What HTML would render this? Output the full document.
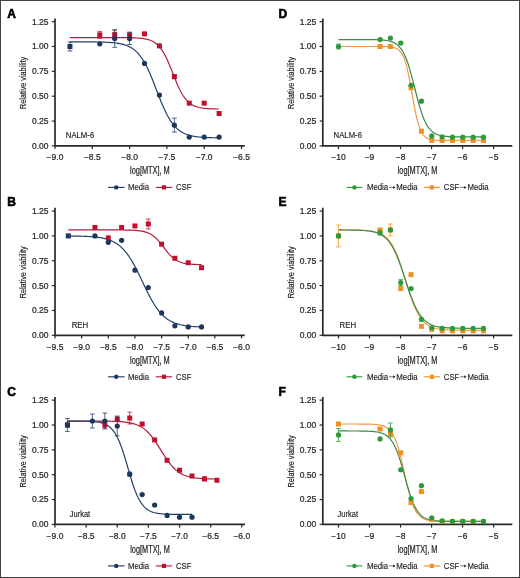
<!DOCTYPE html>
<html><head><meta charset="utf-8"><style>
html,body{margin:0;padding:0;background:#fff;}
body{width:520px;height:578px;overflow:hidden;}
svg{display:block;will-change:transform;}
text{font-family:"Liberation Sans",sans-serif;fill:#1e1e1e;}
.t{font-size:8.5px;stroke:#1e1e1e;stroke-width:0.15px;}
.cl{font-size:8.8px;stroke:#1e1e1e;stroke-width:0.15px;}
.tk{font-size:8.5px;stroke:#1e1e1e;stroke-width:0.2px;}
.xl{font-size:10px;stroke:#1e1e1e;stroke-width:0.22px;}
.yl{font-size:9.6px;stroke:#1e1e1e;stroke-width:0.2px;}
.pl{font-size:12px;font-weight:bold;fill:#000;stroke:#000;stroke-width:0.6px;}
</style></head><body>
<svg width="520" height="578" viewBox="0 0 520 578">
<rect x="0" y="0" width="520" height="578" fill="#fff"/>
<path d="M55.00 18.45V145.90H244.80" fill="none" stroke="#2a2a2a" stroke-width="1.7"/>
<path d="M51.80 145.90H55.00" stroke="#2a2a2a" stroke-width="1.2"/>
<text x="48.50" y="148.80" text-anchor="end" class="tk">0.00</text>
<path d="M51.80 121.05H55.00" stroke="#2a2a2a" stroke-width="1.2"/>
<text x="48.50" y="123.95" text-anchor="end" class="tk">0.25</text>
<path d="M51.80 96.20H55.00" stroke="#2a2a2a" stroke-width="1.2"/>
<text x="48.50" y="99.10" text-anchor="end" class="tk">0.50</text>
<path d="M51.80 71.35H55.00" stroke="#2a2a2a" stroke-width="1.2"/>
<text x="48.50" y="74.25" text-anchor="end" class="tk">0.75</text>
<path d="M51.80 46.50H55.00" stroke="#2a2a2a" stroke-width="1.2"/>
<text x="48.50" y="49.40" text-anchor="end" class="tk">1.00</text>
<path d="M51.80 21.65H55.00" stroke="#2a2a2a" stroke-width="1.2"/>
<text x="48.50" y="24.55" text-anchor="end" class="tk">1.25</text>
<path d="M55.00 145.90V149.10" stroke="#2a2a2a" stroke-width="1.2"/>
<text x="55.00" y="160.10" text-anchor="middle" class="tk">−9.0</text>
<path d="M92.30 145.90V149.10" stroke="#2a2a2a" stroke-width="1.2"/>
<text x="92.30" y="160.10" text-anchor="middle" class="tk">−8.5</text>
<path d="M129.60 145.90V149.10" stroke="#2a2a2a" stroke-width="1.2"/>
<text x="129.60" y="160.10" text-anchor="middle" class="tk">−8.0</text>
<path d="M166.90 145.90V149.10" stroke="#2a2a2a" stroke-width="1.2"/>
<text x="166.90" y="160.10" text-anchor="middle" class="tk">−7.5</text>
<path d="M204.20 145.90V149.10" stroke="#2a2a2a" stroke-width="1.2"/>
<text x="204.20" y="160.10" text-anchor="middle" class="tk">−7.0</text>
<path d="M241.50 145.90V149.10" stroke="#2a2a2a" stroke-width="1.2"/>
<text x="241.50" y="160.10" text-anchor="middle" class="tk">−6.5</text>
<text x="149.90" y="174.10" text-anchor="middle" class="xl" textLength="39.7" lengthAdjust="spacingAndGlyphs">log[MTX], M</text>
<text transform="translate(25.90 82.90) rotate(-90)" text-anchor="middle" class="yl" textLength="52" lengthAdjust="spacingAndGlyphs">Relative viability</text>
<text x="7.20" y="17.60" class="pl">A</text>
<text x="65.80" y="138.30" class="cl" textLength="28.4" lengthAdjust="spacingAndGlyphs">NALM-6</text>
<path d="M69.92 37.55 L71.16 37.55 L72.41 37.55 L73.65 37.55 L74.89 37.55 L76.14 37.55 L77.38 37.55 L78.62 37.55 L79.87 37.55 L81.11 37.55 L82.35 37.55 L83.60 37.55 L84.84 37.55 L86.08 37.55 L87.33 37.55 L88.57 37.55 L89.81 37.55 L91.06 37.55 L92.30 37.55 L93.54 37.55 L94.79 37.56 L96.03 37.56 L97.27 37.56 L98.52 37.56 L99.76 37.56 L101.00 37.56 L102.25 37.56 L103.49 37.56 L104.73 37.56 L105.98 37.56 L107.22 37.56 L108.46 37.56 L109.71 37.56 L110.95 37.56 L112.19 37.57 L113.44 37.57 L114.68 37.57 L115.92 37.58 L117.17 37.58 L118.41 37.59 L119.65 37.59 L120.90 37.60 L122.14 37.61 L123.38 37.62 L124.63 37.63 L125.87 37.64 L127.11 37.66 L128.36 37.68 L129.60 37.71 L130.84 37.74 L132.09 37.77 L133.33 37.81 L134.57 37.86 L135.82 37.92 L137.06 37.99 L138.30 38.08 L139.55 38.18 L140.79 38.30 L142.03 38.44 L143.28 38.61 L144.52 38.81 L145.76 39.05 L147.01 39.33 L148.25 39.66 L149.49 40.05 L150.74 40.52 L151.98 41.06 L153.22 41.70 L154.47 42.44 L155.71 43.31 L156.95 44.32 L158.20 45.48 L159.44 46.81 L160.68 48.33 L161.93 50.05 L163.17 51.97 L164.41 54.11 L165.66 56.47 L166.90 59.02 L168.14 61.77 L169.39 64.67 L170.63 67.70 L171.87 70.82 L173.12 73.97 L174.36 77.11 L175.60 80.20 L176.85 83.18 L178.09 86.03 L179.33 88.70 L180.58 91.17 L181.82 93.44 L183.06 95.50 L184.31 97.34 L185.55 98.98 L186.79 100.42 L188.04 101.68 L189.28 102.78 L190.52 103.73 L191.77 104.54 L193.01 105.24 L194.25 105.84 L195.50 106.35 L196.74 106.79 L197.98 107.15 L199.23 107.47 L200.47 107.73 L201.71 107.95 L202.96 108.14 L204.20 108.29 L205.44 108.43 L206.69 108.54 L207.93 108.63 L209.17 108.71 L210.42 108.78 L211.66 108.83 L212.90 108.88 L214.15 108.92 L215.39 108.95 L216.63 108.98 L217.88 109.00 L219.12 109.02" fill="none" stroke="#b51d3c" stroke-width="1.2"/>
<path d="M69.92 41.84 L71.16 41.84 L72.41 41.84 L73.65 41.84 L74.89 41.84 L76.14 41.84 L77.38 41.85 L78.62 41.85 L79.87 41.85 L81.11 41.86 L82.35 41.86 L83.60 41.86 L84.84 41.87 L86.08 41.88 L87.33 41.88 L88.57 41.89 L89.81 41.90 L91.06 41.91 L92.30 41.92 L93.54 41.94 L94.79 41.95 L96.03 41.97 L97.27 41.99 L98.52 42.01 L99.76 42.04 L101.00 42.07 L102.25 42.10 L103.49 42.14 L104.73 42.19 L105.98 42.24 L107.22 42.30 L108.46 42.36 L109.71 42.44 L110.95 42.53 L112.19 42.63 L113.44 42.74 L114.68 42.87 L115.92 43.02 L117.17 43.19 L118.41 43.38 L119.65 43.60 L120.90 43.85 L122.14 44.13 L123.38 44.45 L124.63 44.82 L125.87 45.23 L127.11 45.70 L128.36 46.23 L129.60 46.84 L130.84 47.51 L132.09 48.27 L133.33 49.13 L134.57 50.09 L135.82 51.16 L137.06 52.36 L138.30 53.69 L139.55 55.15 L140.79 56.77 L142.03 58.55 L143.28 60.48 L144.52 62.58 L145.76 64.85 L147.01 67.29 L148.25 69.88 L149.49 72.62 L150.74 75.50 L151.98 78.49 L153.22 81.58 L154.47 84.74 L155.71 87.95 L156.95 91.18 L158.20 94.39 L159.44 97.57 L160.68 100.68 L161.93 103.69 L163.17 106.59 L164.41 109.36 L165.66 111.98 L166.90 114.45 L168.14 116.75 L169.39 118.89 L170.63 120.86 L171.87 122.66 L173.12 124.31 L174.36 125.81 L175.60 127.16 L176.85 128.38 L178.09 129.48 L179.33 130.46 L180.58 131.34 L181.82 132.12 L183.06 132.81 L184.31 133.43 L185.55 133.97 L186.79 134.45 L188.04 134.88 L189.28 135.25 L190.52 135.58 L191.77 135.87 L193.01 136.13 L194.25 136.35 L195.50 136.55 L196.74 136.73 L197.98 136.88 L199.23 137.01 L200.47 137.13 L201.71 137.23 L202.96 137.32 L204.20 137.40 L205.44 137.47 L206.69 137.53 L207.93 137.58 L209.17 137.63 L210.42 137.67 L211.66 137.70 L212.90 137.73 L214.15 137.76 L215.39 137.78 L216.63 137.80 L217.88 137.82 L219.12 137.84" fill="none" stroke="#24406a" stroke-width="1.2"/>
<path d="M99.76 31.39V38.35M97.36 31.39H102.16M97.36 38.35H102.16" stroke="#c0102f" stroke-width="0.75" fill="none"/>
<rect x="97.26" y="32.37" width="5" height="5" fill="#c0102f"/>
<path d="M114.68 30.10V39.04M112.28 30.10H117.08M112.28 39.04H117.08" stroke="#c0102f" stroke-width="0.75" fill="none"/>
<rect x="112.18" y="32.07" width="5" height="5" fill="#c0102f"/>
<path d="M129.60 32.09V39.04M127.20 32.09H132.00M127.20 39.04H132.00" stroke="#c0102f" stroke-width="0.75" fill="none"/>
<rect x="127.10" y="33.07" width="5" height="5" fill="#c0102f"/>
<rect x="142.02" y="31.38" width="5" height="5" fill="#c0102f"/>
<rect x="156.94" y="43.40" width="5" height="5" fill="#c0102f"/>
<path d="M174.36 74.63V78.61M171.96 74.63H176.76M171.96 78.61H176.76" stroke="#c0102f" stroke-width="0.75" fill="none"/>
<rect x="171.86" y="74.12" width="5" height="5" fill="#c0102f"/>
<rect x="186.78" y="100.66" width="5" height="5" fill="#c0102f"/>
<rect x="201.70" y="100.66" width="5" height="5" fill="#c0102f"/>
<rect x="216.62" y="111.00" width="5" height="5" fill="#c0102f"/>
<path d="M69.92 42.03V50.97M67.52 42.03H72.32M67.52 50.97H72.32" stroke="#1b365f" stroke-width="0.75" fill="none"/>
<rect x="67.42" y="44.00" width="5" height="5" fill="#1b365f"/>
<circle cx="99.76" cy="43.82" r="2.6" fill="#1b365f"/>
<path d="M114.68 29.80V47.30M112.28 29.80H117.08M112.28 47.30H117.08" stroke="#1b365f" stroke-width="0.75" fill="none"/>
<circle cx="114.68" cy="38.55" r="2.6" fill="#1b365f"/>
<path d="M129.60 32.58V44.51M127.20 32.58H132.00M127.20 44.51H132.00" stroke="#1b365f" stroke-width="0.75" fill="none"/>
<circle cx="129.60" cy="38.55" r="2.6" fill="#1b365f"/>
<circle cx="144.52" cy="63.40" r="2.6" fill="#1b365f"/>
<circle cx="159.44" cy="95.01" r="2.6" fill="#1b365f"/>
<path d="M174.36 118.17V132.08M171.96 118.17H176.76M171.96 132.08H176.76" stroke="#1b365f" stroke-width="0.75" fill="none"/>
<circle cx="174.36" cy="125.13" r="2.6" fill="#1b365f"/>
<circle cx="189.28" cy="137.10" r="2.6" fill="#1b365f"/>
<circle cx="204.20" cy="137.10" r="2.6" fill="#1b365f"/>
<circle cx="219.12" cy="137.10" r="2.6" fill="#1b365f"/>
<path d="M108.00 187.40H124.50" stroke="#1b365f" stroke-width="1.1"/>
<circle cx="116.25" cy="187.40" r="2.2" fill="#1b365f"/>
<text x="128.00" y="190.30" class="t" textLength="21" lengthAdjust="spacingAndGlyphs">Media</text>
<path d="M155.80 187.40H172.10" stroke="#c0102f" stroke-width="1.1"/>
<rect x="161.85" y="185.30" width="4.2" height="4.2" fill="#c0102f"/>
<text x="176.00" y="190.30" class="t" textLength="15.5" lengthAdjust="spacingAndGlyphs">CSF</text>
<path d="M55.00 207.85V335.30H244.80" fill="none" stroke="#2a2a2a" stroke-width="1.7"/>
<path d="M51.80 335.30H55.00" stroke="#2a2a2a" stroke-width="1.2"/>
<text x="48.50" y="338.20" text-anchor="end" class="tk">0.00</text>
<path d="M51.80 310.45H55.00" stroke="#2a2a2a" stroke-width="1.2"/>
<text x="48.50" y="313.35" text-anchor="end" class="tk">0.25</text>
<path d="M51.80 285.60H55.00" stroke="#2a2a2a" stroke-width="1.2"/>
<text x="48.50" y="288.50" text-anchor="end" class="tk">0.50</text>
<path d="M51.80 260.75H55.00" stroke="#2a2a2a" stroke-width="1.2"/>
<text x="48.50" y="263.65" text-anchor="end" class="tk">0.75</text>
<path d="M51.80 235.90H55.00" stroke="#2a2a2a" stroke-width="1.2"/>
<text x="48.50" y="238.80" text-anchor="end" class="tk">1.00</text>
<path d="M51.80 211.05H55.00" stroke="#2a2a2a" stroke-width="1.2"/>
<text x="48.50" y="213.95" text-anchor="end" class="tk">1.25</text>
<path d="M55.00 335.30V338.50" stroke="#2a2a2a" stroke-width="1.2"/>
<text x="55.00" y="349.50" text-anchor="middle" class="tk">−9.5</text>
<path d="M81.64 335.30V338.50" stroke="#2a2a2a" stroke-width="1.2"/>
<text x="81.64" y="349.50" text-anchor="middle" class="tk">−9.0</text>
<path d="M108.29 335.30V338.50" stroke="#2a2a2a" stroke-width="1.2"/>
<text x="108.29" y="349.50" text-anchor="middle" class="tk">−8.5</text>
<path d="M134.94 335.30V338.50" stroke="#2a2a2a" stroke-width="1.2"/>
<text x="134.94" y="349.50" text-anchor="middle" class="tk">−8.0</text>
<path d="M161.58 335.30V338.50" stroke="#2a2a2a" stroke-width="1.2"/>
<text x="161.58" y="349.50" text-anchor="middle" class="tk">−7.5</text>
<path d="M188.22 335.30V338.50" stroke="#2a2a2a" stroke-width="1.2"/>
<text x="188.22" y="349.50" text-anchor="middle" class="tk">−7.0</text>
<path d="M214.87 335.30V338.50" stroke="#2a2a2a" stroke-width="1.2"/>
<text x="214.87" y="349.50" text-anchor="middle" class="tk">−6.5</text>
<path d="M241.51 335.30V338.50" stroke="#2a2a2a" stroke-width="1.2"/>
<text x="241.51" y="349.50" text-anchor="middle" class="tk">−6.0</text>
<text x="149.90" y="363.50" text-anchor="middle" class="xl" textLength="39.7" lengthAdjust="spacingAndGlyphs">log[MTX], M</text>
<text transform="translate(25.90 272.30) rotate(-90)" text-anchor="middle" class="yl" textLength="52" lengthAdjust="spacingAndGlyphs">Relative viability</text>
<text x="7.20" y="206.10" class="pl">B</text>
<text x="71.70" y="327.70" class="cl" textLength="16.6" lengthAdjust="spacingAndGlyphs">REH</text>
<path d="M68.32 229.94 L69.43 229.94 L70.54 229.94 L71.65 229.94 L72.76 229.94 L73.87 229.94 L74.98 229.94 L76.09 229.94 L77.20 229.94 L78.31 229.94 L79.42 229.94 L80.53 229.94 L81.64 229.94 L82.76 229.94 L83.87 229.94 L84.98 229.94 L86.09 229.94 L87.20 229.94 L88.31 229.94 L89.42 229.94 L90.53 229.94 L91.64 229.94 L92.75 229.94 L93.86 229.94 L94.97 229.94 L96.08 229.94 L97.19 229.94 L98.30 229.94 L99.41 229.94 L100.52 229.94 L101.63 229.94 L102.74 229.94 L103.85 229.94 L104.96 229.94 L106.07 229.94 L107.18 229.94 L108.29 229.94 L109.40 229.95 L110.51 229.95 L111.62 229.95 L112.73 229.95 L113.84 229.95 L114.95 229.96 L116.06 229.96 L117.17 229.97 L118.28 229.97 L119.39 229.98 L120.50 229.99 L121.61 230.00 L122.72 230.01 L123.83 230.02 L124.94 230.03 L126.05 230.05 L127.16 230.07 L128.27 230.10 L129.38 230.13 L130.49 230.16 L131.60 230.20 L132.71 230.25 L133.82 230.31 L134.94 230.38 L136.05 230.46 L137.16 230.55 L138.27 230.66 L139.38 230.79 L140.49 230.94 L141.60 231.12 L142.71 231.33 L143.82 231.57 L144.93 231.85 L146.04 232.18 L147.15 232.56 L148.26 233.00 L149.37 233.50 L150.48 234.08 L151.59 234.73 L152.70 235.47 L153.81 236.29 L154.92 237.21 L156.03 238.23 L157.14 239.33 L158.25 240.53 L159.36 241.80 L160.47 243.15 L161.58 244.55 L162.69 245.99 L163.80 247.45 L164.91 248.90 L166.02 250.34 L167.13 251.73 L168.24 253.07 L169.35 254.33 L170.46 255.51 L171.57 256.60 L172.68 257.60 L173.79 258.51 L174.90 259.32 L176.01 260.04 L177.12 260.68 L178.23 261.24 L179.34 261.74 L180.45 262.16 L181.56 262.53 L182.67 262.86 L183.78 263.13 L184.89 263.37 L186.00 263.57 L187.11 263.74 L188.22 263.89 L189.34 264.02 L190.45 264.13 L191.56 264.22 L192.67 264.30 L193.78 264.36 L194.89 264.42 L196.00 264.46 L197.11 264.50 L198.22 264.54 L199.33 264.57 L200.44 264.59 L201.55 264.61" fill="none" stroke="#b51d3c" stroke-width="1.2"/>
<path d="M68.32 236.00 L69.43 236.01 L70.54 236.02 L71.65 236.03 L72.76 236.05 L73.87 236.06 L74.98 236.08 L76.09 236.10 L77.20 236.12 L78.31 236.14 L79.42 236.17 L80.53 236.20 L81.64 236.23 L82.76 236.27 L83.87 236.31 L84.98 236.35 L86.09 236.40 L87.20 236.45 L88.31 236.51 L89.42 236.58 L90.53 236.65 L91.64 236.73 L92.75 236.82 L93.86 236.92 L94.97 237.03 L96.08 237.15 L97.19 237.28 L98.30 237.42 L99.41 237.59 L100.52 237.76 L101.63 237.96 L102.74 238.18 L103.85 238.42 L104.96 238.68 L106.07 238.97 L107.18 239.29 L108.29 239.64 L109.40 240.03 L110.51 240.46 L111.62 240.92 L112.73 241.43 L113.84 241.99 L114.95 242.60 L116.06 243.27 L117.17 243.99 L118.28 244.78 L119.39 245.64 L120.50 246.57 L121.61 247.57 L122.72 248.66 L123.83 249.83 L124.94 251.09 L126.05 252.43 L127.16 253.87 L128.27 255.40 L129.38 257.02 L130.49 258.73 L131.60 260.53 L132.71 262.42 L133.82 264.40 L134.94 266.45 L136.05 268.57 L137.16 270.76 L138.27 273.00 L139.38 275.28 L140.49 277.60 L141.60 279.93 L142.71 282.28 L143.82 284.62 L144.93 286.95 L146.04 289.25 L147.15 291.51 L148.26 293.72 L149.37 295.87 L150.48 297.96 L151.59 299.97 L152.70 301.89 L153.81 303.74 L154.92 305.49 L156.03 307.15 L157.14 308.72 L158.25 310.20 L159.36 311.58 L160.47 312.88 L161.58 314.08 L162.69 315.21 L163.80 316.25 L164.91 317.21 L166.02 318.10 L167.13 318.92 L168.24 319.67 L169.35 320.36 L170.46 321.00 L171.57 321.58 L172.68 322.11 L173.79 322.59 L174.90 323.03 L176.01 323.44 L177.12 323.80 L178.23 324.14 L179.34 324.44 L180.45 324.72 L181.56 324.97 L182.67 325.19 L183.78 325.40 L184.89 325.59 L186.00 325.75 L187.11 325.91 L188.22 326.05 L189.34 326.17 L190.45 326.29 L191.56 326.39 L192.67 326.48 L193.78 326.56 L194.89 326.64 L196.00 326.71 L197.11 326.77 L198.22 326.83 L199.33 326.88 L200.44 326.92 L201.55 326.96" fill="none" stroke="#24406a" stroke-width="1.2"/>
<rect x="92.47" y="224.95" width="5" height="5" fill="#c0102f"/>
<rect x="105.79" y="235.39" width="5" height="5" fill="#c0102f"/>
<rect x="119.11" y="224.95" width="5" height="5" fill="#c0102f"/>
<rect x="132.44" y="223.46" width="5" height="5" fill="#c0102f"/>
<path d="M148.26 219.00V228.94M145.86 219.00H150.66M145.86 228.94H150.66" stroke="#c0102f" stroke-width="0.75" fill="none"/>
<rect x="145.76" y="221.47" width="5" height="5" fill="#c0102f"/>
<rect x="159.08" y="241.65" width="5" height="5" fill="#c0102f"/>
<rect x="172.40" y="255.76" width="5" height="5" fill="#c0102f"/>
<rect x="185.72" y="260.24" width="5" height="5" fill="#c0102f"/>
<rect x="199.05" y="265.21" width="5" height="5" fill="#c0102f"/>
<path d="M68.32 234.91V236.89M65.92 234.91H70.72M65.92 236.89H70.72" stroke="#1b365f" stroke-width="0.75" fill="none"/>
<rect x="65.82" y="233.40" width="5" height="5" fill="#1b365f"/>
<circle cx="94.97" cy="235.90" r="2.6" fill="#1b365f"/>
<circle cx="108.29" cy="242.36" r="2.6" fill="#1b365f"/>
<circle cx="121.61" cy="240.37" r="2.6" fill="#1b365f"/>
<circle cx="134.94" cy="270.19" r="2.6" fill="#1b365f"/>
<circle cx="148.26" cy="287.59" r="2.6" fill="#1b365f"/>
<circle cx="161.58" cy="312.94" r="2.6" fill="#1b365f"/>
<circle cx="174.90" cy="325.86" r="2.6" fill="#1b365f"/>
<circle cx="188.22" cy="326.95" r="2.6" fill="#1b365f"/>
<circle cx="201.55" cy="326.95" r="2.6" fill="#1b365f"/>
<path d="M108.00 376.80H124.50" stroke="#1b365f" stroke-width="1.1"/>
<circle cx="116.25" cy="376.80" r="2.2" fill="#1b365f"/>
<text x="128.00" y="379.70" class="t" textLength="21" lengthAdjust="spacingAndGlyphs">Media</text>
<path d="M155.80 376.80H172.10" stroke="#c0102f" stroke-width="1.1"/>
<rect x="161.85" y="374.70" width="4.2" height="4.2" fill="#c0102f"/>
<text x="176.00" y="379.70" class="t" textLength="15.5" lengthAdjust="spacingAndGlyphs">CSF</text>
<path d="M55.00 396.95V524.40H245.00" fill="none" stroke="#2a2a2a" stroke-width="1.7"/>
<path d="M51.80 524.40H55.00" stroke="#2a2a2a" stroke-width="1.2"/>
<text x="48.50" y="527.30" text-anchor="end" class="tk">0.00</text>
<path d="M51.80 499.55H55.00" stroke="#2a2a2a" stroke-width="1.2"/>
<text x="48.50" y="502.45" text-anchor="end" class="tk">0.25</text>
<path d="M51.80 474.70H55.00" stroke="#2a2a2a" stroke-width="1.2"/>
<text x="48.50" y="477.60" text-anchor="end" class="tk">0.50</text>
<path d="M51.80 449.85H55.00" stroke="#2a2a2a" stroke-width="1.2"/>
<text x="48.50" y="452.75" text-anchor="end" class="tk">0.75</text>
<path d="M51.80 425.00H55.00" stroke="#2a2a2a" stroke-width="1.2"/>
<text x="48.50" y="427.90" text-anchor="end" class="tk">1.00</text>
<path d="M51.80 400.15H55.00" stroke="#2a2a2a" stroke-width="1.2"/>
<text x="48.50" y="403.05" text-anchor="end" class="tk">1.25</text>
<path d="M55.00 524.40V527.60" stroke="#2a2a2a" stroke-width="1.2"/>
<text x="55.00" y="538.60" text-anchor="middle" class="tk">−9.0</text>
<path d="M86.14 524.40V527.60" stroke="#2a2a2a" stroke-width="1.2"/>
<text x="86.14" y="538.60" text-anchor="middle" class="tk">−8.5</text>
<path d="M117.27 524.40V527.60" stroke="#2a2a2a" stroke-width="1.2"/>
<text x="117.27" y="538.60" text-anchor="middle" class="tk">−8.0</text>
<path d="M148.41 524.40V527.60" stroke="#2a2a2a" stroke-width="1.2"/>
<text x="148.41" y="538.60" text-anchor="middle" class="tk">−7.5</text>
<path d="M179.54 524.40V527.60" stroke="#2a2a2a" stroke-width="1.2"/>
<text x="179.54" y="538.60" text-anchor="middle" class="tk">−7.0</text>
<path d="M210.68 524.40V527.60" stroke="#2a2a2a" stroke-width="1.2"/>
<text x="210.68" y="538.60" text-anchor="middle" class="tk">−6.5</text>
<path d="M241.81 524.40V527.60" stroke="#2a2a2a" stroke-width="1.2"/>
<text x="241.81" y="538.60" text-anchor="middle" class="tk">−6.0</text>
<text x="150.00" y="552.60" text-anchor="middle" class="xl" textLength="39.7" lengthAdjust="spacingAndGlyphs">log[MTX], M</text>
<text transform="translate(25.90 461.40) rotate(-90)" text-anchor="middle" class="yl" textLength="52" lengthAdjust="spacingAndGlyphs">Relative viability</text>
<text x="7.20" y="396.10" class="pl">C</text>
<text x="69.80" y="516.80" class="cl" textLength="20.4" lengthAdjust="spacingAndGlyphs">Jurkat</text>
<path d="M67.45 421.03 L68.70 421.03 L69.94 421.03 L71.19 421.03 L72.44 421.03 L73.68 421.03 L74.93 421.03 L76.17 421.03 L77.42 421.03 L78.66 421.03 L79.91 421.03 L81.15 421.03 L82.40 421.03 L83.64 421.04 L84.89 421.04 L86.14 421.04 L87.38 421.04 L88.63 421.04 L89.87 421.05 L91.12 421.05 L92.36 421.05 L93.61 421.06 L94.85 421.06 L96.10 421.07 L97.34 421.07 L98.59 421.08 L99.83 421.09 L101.08 421.10 L102.33 421.11 L103.57 421.12 L104.82 421.14 L106.06 421.16 L107.31 421.18 L108.55 421.20 L109.80 421.22 L111.04 421.25 L112.29 421.29 L113.53 421.33 L114.78 421.37 L116.02 421.42 L117.27 421.48 L118.52 421.55 L119.76 421.63 L121.01 421.71 L122.25 421.82 L123.50 421.93 L124.74 422.06 L125.99 422.21 L127.23 422.39 L128.48 422.58 L129.72 422.81 L130.97 423.06 L132.21 423.35 L133.46 423.68 L134.71 424.05 L135.95 424.48 L137.20 424.95 L138.44 425.49 L139.69 426.09 L140.93 426.77 L142.18 427.53 L143.42 428.37 L144.67 429.30 L145.91 430.33 L147.16 431.46 L148.41 432.70 L149.65 434.04 L150.90 435.49 L152.14 437.04 L153.39 438.69 L154.63 440.44 L155.88 442.26 L157.12 444.16 L158.37 446.11 L159.61 448.09 L160.86 450.10 L162.10 452.10 L163.35 454.09 L164.60 456.04 L165.84 457.93 L167.09 459.76 L168.33 461.50 L169.58 463.16 L170.82 464.71 L172.07 466.16 L173.31 467.50 L174.56 468.73 L175.80 469.87 L177.05 470.90 L178.29 471.83 L179.54 472.67 L180.79 473.43 L182.03 474.10 L183.28 474.71 L184.52 475.25 L185.77 475.72 L187.01 476.14 L188.26 476.52 L189.50 476.85 L190.75 477.14 L191.99 477.39 L193.24 477.61 L194.48 477.81 L195.73 477.98 L196.98 478.13 L198.22 478.27 L199.47 478.38 L200.71 478.48 L201.96 478.57 L203.20 478.65 L204.45 478.71 L205.69 478.77 L206.94 478.82 L208.18 478.87 L209.43 478.91 L210.68 478.94 L211.92 478.97 L213.17 479.00 L214.41 479.02 L215.66 479.04 L216.90 479.06" fill="none" stroke="#b51d3c" stroke-width="1.2"/>
<path d="M67.45 421.04 L68.49 421.04 L69.53 421.04 L70.57 421.04 L71.61 421.05 L72.64 421.05 L73.68 421.05 L74.72 421.06 L75.76 421.07 L76.79 421.07 L77.83 421.08 L78.87 421.09 L79.91 421.10 L80.95 421.11 L81.98 421.13 L83.02 421.15 L84.06 421.17 L85.10 421.19 L86.14 421.22 L87.17 421.25 L88.21 421.29 L89.25 421.33 L90.29 421.38 L91.32 421.44 L92.36 421.51 L93.40 421.59 L94.44 421.69 L95.48 421.79 L96.51 421.92 L97.55 422.07 L98.59 422.24 L99.63 422.44 L100.66 422.67 L101.70 422.94 L102.74 423.25 L103.78 423.60 L104.82 424.02 L105.85 424.50 L106.89 425.05 L107.93 425.68 L108.97 426.41 L110.01 427.25 L111.04 428.20 L112.08 429.28 L113.12 430.52 L114.16 431.91 L115.19 433.47 L116.23 435.22 L117.27 437.17 L118.31 439.33 L119.35 441.69 L120.38 444.27 L121.42 447.05 L122.46 450.03 L123.50 453.18 L124.53 456.49 L125.57 459.93 L126.61 463.45 L127.65 467.02 L128.69 470.61 L129.72 474.16 L130.76 477.63 L131.80 480.99 L132.84 484.21 L133.88 487.27 L134.91 490.13 L135.95 492.79 L136.99 495.24 L138.03 497.48 L139.06 499.51 L140.10 501.33 L141.14 502.97 L142.18 504.43 L143.22 505.73 L144.25 506.87 L145.29 507.87 L146.33 508.75 L147.37 509.52 L148.41 510.19 L149.44 510.78 L150.48 511.28 L151.52 511.72 L152.56 512.10 L153.59 512.43 L154.63 512.71 L155.67 512.96 L156.71 513.17 L157.75 513.35 L158.78 513.51 L159.82 513.64 L160.86 513.76 L161.90 513.86 L162.93 513.94 L163.97 514.01 L165.01 514.08 L166.05 514.13 L167.09 514.18 L168.12 514.22 L169.16 514.25 L170.20 514.28 L171.24 514.31 L172.28 514.33 L173.31 514.35 L174.35 514.36 L175.39 514.38 L176.43 514.39 L177.46 514.40 L178.50 514.41 L179.54 514.42 L180.58 514.42 L181.62 514.43 L182.65 514.43 L183.69 514.44 L184.73 514.44 L185.77 514.44 L186.80 514.44 L187.84 514.45 L188.88 514.45 L189.92 514.45 L190.96 514.45 L191.99 514.45" fill="none" stroke="#24406a" stroke-width="1.2"/>
<rect x="64.95" y="422.50" width="5" height="5" fill="#c0102f"/>
<path d="M104.82 422.02V427.98M102.42 422.02H107.22M102.42 427.98H107.22" stroke="#c0102f" stroke-width="0.75" fill="none"/>
<rect x="102.32" y="422.50" width="5" height="5" fill="#c0102f"/>
<rect x="114.77" y="416.54" width="5" height="5" fill="#c0102f"/>
<path d="M129.72 412.08V424.01M127.32 412.08H132.12M127.32 424.01H132.12" stroke="#c0102f" stroke-width="0.75" fill="none"/>
<rect x="127.22" y="415.54" width="5" height="5" fill="#c0102f"/>
<rect x="139.68" y="421.51" width="5" height="5" fill="#c0102f"/>
<rect x="152.13" y="437.41" width="5" height="5" fill="#c0102f"/>
<rect x="164.59" y="457.79" width="5" height="5" fill="#c0102f"/>
<rect x="177.04" y="467.73" width="5" height="5" fill="#c0102f"/>
<rect x="189.49" y="473.49" width="5" height="5" fill="#c0102f"/>
<path d="M204.45 476.89V480.86M202.05 476.89H206.85M202.05 480.86H206.85" stroke="#c0102f" stroke-width="0.75" fill="none"/>
<rect x="201.95" y="476.37" width="5" height="5" fill="#c0102f"/>
<rect x="214.40" y="477.77" width="5" height="5" fill="#c0102f"/>
<path d="M67.45 418.54V431.46M65.05 418.54H69.85M65.05 431.46H69.85" stroke="#1b365f" stroke-width="0.75" fill="none"/>
<rect x="64.95" y="422.50" width="5" height="5" fill="#1b365f"/>
<path d="M92.36 414.07V427.98M89.96 414.07H94.76M89.96 427.98H94.76" stroke="#1b365f" stroke-width="0.75" fill="none"/>
<circle cx="92.36" cy="421.02" r="2.6" fill="#1b365f"/>
<path d="M104.82 413.07V428.98M102.42 413.07H107.22M102.42 428.98H107.22" stroke="#1b365f" stroke-width="0.75" fill="none"/>
<circle cx="104.82" cy="421.02" r="2.6" fill="#1b365f"/>
<path d="M117.27 416.05V435.93M114.87 416.05H119.67M114.87 435.93H119.67" stroke="#1b365f" stroke-width="0.75" fill="none"/>
<circle cx="117.27" cy="425.99" r="2.6" fill="#1b365f"/>
<path d="M129.72 472.21V476.19M127.32 472.21H132.12M127.32 476.19H132.12" stroke="#1b365f" stroke-width="0.75" fill="none"/>
<circle cx="129.72" cy="474.20" r="2.6" fill="#1b365f"/>
<circle cx="142.18" cy="494.58" r="2.6" fill="#1b365f"/>
<circle cx="154.63" cy="505.02" r="2.6" fill="#1b365f"/>
<circle cx="167.09" cy="515.45" r="2.6" fill="#1b365f"/>
<circle cx="179.54" cy="517.14" r="2.6" fill="#1b365f"/>
<circle cx="191.99" cy="517.14" r="2.6" fill="#1b365f"/>
<path d="M108.00 565.90H124.50" stroke="#1b365f" stroke-width="1.1"/>
<circle cx="116.25" cy="565.90" r="2.2" fill="#1b365f"/>
<text x="128.00" y="568.80" class="t" textLength="21" lengthAdjust="spacingAndGlyphs">Media</text>
<path d="M155.80 565.90H172.10" stroke="#c0102f" stroke-width="1.1"/>
<rect x="161.85" y="563.80" width="4.2" height="4.2" fill="#c0102f"/>
<text x="176.00" y="568.80" class="t" textLength="15.5" lengthAdjust="spacingAndGlyphs">CSF</text>
<path d="M322.80 18.45V145.90H512.30" fill="none" stroke="#2a2a2a" stroke-width="1.7"/>
<path d="M319.60 145.90H322.80" stroke="#2a2a2a" stroke-width="1.2"/>
<text x="316.30" y="148.80" text-anchor="end" class="tk">0.00</text>
<path d="M319.60 121.05H322.80" stroke="#2a2a2a" stroke-width="1.2"/>
<text x="316.30" y="123.95" text-anchor="end" class="tk">0.25</text>
<path d="M319.60 96.20H322.80" stroke="#2a2a2a" stroke-width="1.2"/>
<text x="316.30" y="99.10" text-anchor="end" class="tk">0.50</text>
<path d="M319.60 71.35H322.80" stroke="#2a2a2a" stroke-width="1.2"/>
<text x="316.30" y="74.25" text-anchor="end" class="tk">0.75</text>
<path d="M319.60 46.50H322.80" stroke="#2a2a2a" stroke-width="1.2"/>
<text x="316.30" y="49.40" text-anchor="end" class="tk">1.00</text>
<path d="M319.60 21.65H322.80" stroke="#2a2a2a" stroke-width="1.2"/>
<text x="316.30" y="24.55" text-anchor="end" class="tk">1.25</text>
<path d="M338.50 145.90V149.10" stroke="#2a2a2a" stroke-width="1.2"/>
<text x="338.50" y="160.10" text-anchor="middle" class="tk">−10</text>
<path d="M369.52 145.90V149.10" stroke="#2a2a2a" stroke-width="1.2"/>
<text x="369.52" y="160.10" text-anchor="middle" class="tk">−9</text>
<path d="M400.54 145.90V149.10" stroke="#2a2a2a" stroke-width="1.2"/>
<text x="400.54" y="160.10" text-anchor="middle" class="tk">−8</text>
<path d="M431.56 145.90V149.10" stroke="#2a2a2a" stroke-width="1.2"/>
<text x="431.56" y="160.10" text-anchor="middle" class="tk">−7</text>
<path d="M462.58 145.90V149.10" stroke="#2a2a2a" stroke-width="1.2"/>
<text x="462.58" y="160.10" text-anchor="middle" class="tk">−6</text>
<path d="M493.60 145.90V149.10" stroke="#2a2a2a" stroke-width="1.2"/>
<text x="493.60" y="160.10" text-anchor="middle" class="tk">−5</text>
<text x="417.55" y="174.10" text-anchor="middle" class="xl" textLength="39.7" lengthAdjust="spacingAndGlyphs">log[MTX], M</text>
<text transform="translate(293.70 82.90) rotate(-90)" text-anchor="middle" class="yl" textLength="52" lengthAdjust="spacingAndGlyphs">Relative viability</text>
<text x="278.50" y="18.20" class="pl">D</text>
<text x="333.60" y="138.30" class="cl" textLength="28.4" lengthAdjust="spacingAndGlyphs">NALM-6</text>
<path d="M338.50 46.50 L339.71 46.50 L340.91 46.50 L342.12 46.50 L343.33 46.50 L344.54 46.50 L345.74 46.50 L346.95 46.50 L348.16 46.50 L349.36 46.50 L350.57 46.50 L351.78 46.50 L352.99 46.50 L354.19 46.50 L355.40 46.50 L356.61 46.50 L357.82 46.50 L359.02 46.50 L360.23 46.50 L361.44 46.50 L362.64 46.50 L363.85 46.50 L365.06 46.50 L366.27 46.50 L367.47 46.50 L368.68 46.50 L369.89 46.50 L371.09 46.50 L372.30 46.51 L373.51 46.51 L374.72 46.51 L375.92 46.51 L377.13 46.52 L378.34 46.52 L379.54 46.53 L380.75 46.54 L381.96 46.56 L383.17 46.58 L384.37 46.61 L385.58 46.64 L386.79 46.69 L387.99 46.76 L389.20 46.85 L390.41 46.97 L391.62 47.13 L392.82 47.35 L394.03 47.63 L395.24 48.02 L396.45 48.53 L397.65 49.20 L398.86 50.10 L400.07 51.27 L401.27 52.81 L402.48 54.78 L403.69 57.31 L404.90 60.47 L406.10 64.36 L407.31 69.04 L408.52 74.48 L409.72 80.61 L410.93 87.26 L412.14 94.17 L413.35 101.04 L414.55 107.60 L415.76 113.61 L416.97 118.90 L418.17 123.41 L419.38 127.15 L420.59 130.18 L421.80 132.59 L423.00 134.47 L424.21 135.92 L425.42 137.04 L426.63 137.88 L427.83 138.52 L429.04 139.00 L430.25 139.37 L431.45 139.64 L432.66 139.84 L433.87 139.99 L435.08 140.10 L436.28 140.19 L437.49 140.25 L438.70 140.30 L439.90 140.33 L441.11 140.36 L442.32 140.38 L443.53 140.39 L444.73 140.40 L445.94 140.41 L447.15 140.42 L448.35 140.42 L449.56 140.42 L450.77 140.43 L451.98 140.43 L453.18 140.43 L454.39 140.43 L455.60 140.43 L456.81 140.43 L458.01 140.43 L459.22 140.43 L460.43 140.43 L461.63 140.43 L462.84 140.43 L464.05 140.43 L465.26 140.43 L466.46 140.43 L467.67 140.43 L468.88 140.43 L470.08 140.43 L471.29 140.43 L472.50 140.43 L473.71 140.43 L474.91 140.43 L476.12 140.43 L477.33 140.43 L478.53 140.43 L479.74 140.43 L480.95 140.43 L482.16 140.43 L483.36 140.43" fill="none" stroke="#f09a48" stroke-width="1.2"/>
<path d="M338.50 39.54 L339.71 39.54 L340.91 39.54 L342.12 39.54 L343.33 39.54 L344.54 39.54 L345.74 39.54 L346.95 39.54 L348.16 39.54 L349.36 39.54 L350.57 39.54 L351.78 39.55 L352.99 39.55 L354.19 39.55 L355.40 39.55 L356.61 39.55 L357.82 39.55 L359.02 39.55 L360.23 39.56 L361.44 39.56 L362.64 39.56 L363.85 39.57 L365.06 39.57 L366.27 39.58 L367.47 39.58 L368.68 39.59 L369.89 39.61 L371.09 39.62 L372.30 39.64 L373.51 39.66 L374.72 39.68 L375.92 39.71 L377.13 39.75 L378.34 39.79 L379.54 39.85 L380.75 39.91 L381.96 40.00 L383.17 40.09 L384.37 40.21 L385.58 40.36 L386.79 40.53 L387.99 40.75 L389.20 41.01 L390.41 41.32 L391.62 41.70 L392.82 42.16 L394.03 42.71 L395.24 43.37 L396.45 44.17 L397.65 45.12 L398.86 46.25 L400.07 47.59 L401.27 49.17 L402.48 51.02 L403.69 53.17 L404.90 55.65 L406.10 58.48 L407.31 61.67 L408.52 65.22 L409.72 69.11 L410.93 73.32 L412.14 77.79 L413.35 82.46 L414.55 87.23 L415.76 92.02 L416.97 96.74 L418.17 101.31 L419.38 105.63 L420.59 109.67 L421.80 113.37 L423.00 116.71 L424.21 119.69 L425.42 122.32 L426.63 124.60 L427.83 126.58 L429.04 128.27 L430.25 129.71 L431.45 130.92 L432.66 131.95 L433.87 132.80 L435.08 133.52 L436.28 134.12 L437.49 134.61 L438.70 135.02 L439.90 135.36 L441.11 135.64 L442.32 135.88 L443.53 136.07 L444.73 136.22 L445.94 136.35 L447.15 136.46 L448.35 136.55 L449.56 136.62 L450.77 136.68 L451.98 136.73 L453.18 136.77 L454.39 136.80 L455.60 136.83 L456.81 136.85 L458.01 136.87 L459.22 136.89 L460.43 136.90 L461.63 136.91 L462.84 136.92 L464.05 136.92 L465.26 136.93 L466.46 136.93 L467.67 136.94 L468.88 136.94 L470.08 136.94 L471.29 136.94 L472.50 136.95 L473.71 136.95 L474.91 136.95 L476.12 136.95 L477.33 136.95 L478.53 136.95 L479.74 136.95 L480.95 136.95 L482.16 136.95 L483.36 136.95" fill="none" stroke="#3a8c48" stroke-width="1.2"/>
<rect x="377.57" y="44.00" width="5" height="5" fill="#f0901e"/>
<rect x="387.91" y="44.00" width="5" height="5" fill="#f0901e"/>
<rect x="408.58" y="85.25" width="5" height="5" fill="#f0901e"/>
<rect x="418.92" y="128.69" width="5" height="5" fill="#f0901e"/>
<rect x="429.26" y="137.93" width="5" height="5" fill="#f0901e"/>
<rect x="439.60" y="137.93" width="5" height="5" fill="#f0901e"/>
<rect x="449.94" y="137.93" width="5" height="5" fill="#f0901e"/>
<rect x="460.28" y="137.93" width="5" height="5" fill="#f0901e"/>
<rect x="470.62" y="137.93" width="5" height="5" fill="#f0901e"/>
<rect x="480.96" y="137.93" width="5" height="5" fill="#f0901e"/>
<path d="M338.50 44.02V48.98M336.10 44.02H340.90M336.10 48.98H340.90" stroke="#2b9a3a" stroke-width="0.75" fill="none"/>
<circle cx="338.50" cy="46.50" r="2.6" fill="#2b9a3a"/>
<path d="M380.07 38.55V40.54M377.67 38.55H382.47M377.67 40.54H382.47" stroke="#2b9a3a" stroke-width="0.75" fill="none"/>
<circle cx="380.07" cy="39.54" r="2.6" fill="#2b9a3a"/>
<circle cx="390.41" cy="38.05" r="2.6" fill="#2b9a3a"/>
<path d="M400.74 42.03V44.02M398.34 42.03H403.14M398.34 44.02H403.14" stroke="#2b9a3a" stroke-width="0.75" fill="none"/>
<circle cx="400.74" cy="43.02" r="2.6" fill="#2b9a3a"/>
<circle cx="411.08" cy="85.27" r="2.6" fill="#2b9a3a"/>
<circle cx="421.42" cy="101.17" r="2.6" fill="#2b9a3a"/>
<circle cx="431.76" cy="135.96" r="2.6" fill="#2b9a3a"/>
<circle cx="442.10" cy="136.76" r="2.6" fill="#2b9a3a"/>
<circle cx="452.44" cy="137.15" r="2.6" fill="#2b9a3a"/>
<circle cx="462.78" cy="137.15" r="2.6" fill="#2b9a3a"/>
<circle cx="473.12" cy="137.15" r="2.6" fill="#2b9a3a"/>
<circle cx="483.46" cy="137.15" r="2.6" fill="#2b9a3a"/>
<path d="M346.50 187.40H362.30" stroke="#2b9a3a" stroke-width="1.1"/>
<circle cx="354.40" cy="187.40" r="2.2" fill="#2b9a3a"/>
<text x="366.90" y="190.30" class="t" textLength="21.3" lengthAdjust="spacingAndGlyphs">Media</text>
<path d="M389.00 187.40H394.60" stroke="#1e1e1e" stroke-width="0.8" fill="none" opacity="0.75"/>
<path d="M393.20 185.90L395.40 187.40L393.20 188.90Z" fill="#1e1e1e"/>
<text x="396.30" y="190.30" class="t" textLength="21.3" lengthAdjust="spacingAndGlyphs">Media</text>
<path d="M423.80 187.40H440.00" stroke="#f0901e" stroke-width="1.1"/>
<rect x="429.80" y="185.30" width="4.2" height="4.2" fill="#f0901e"/>
<text x="443.80" y="190.30" class="t" textLength="15.5" lengthAdjust="spacingAndGlyphs">CSF</text>
<path d="M460.10 187.40H465.70" stroke="#1e1e1e" stroke-width="0.8" fill="none" opacity="0.75"/>
<path d="M464.30 185.90L466.50 187.40L464.30 188.90Z" fill="#1e1e1e"/>
<text x="467.40" y="190.30" class="t" textLength="21.3" lengthAdjust="spacingAndGlyphs">Media</text>
<path d="M322.80 207.85V335.30H512.30" fill="none" stroke="#2a2a2a" stroke-width="1.7"/>
<path d="M319.60 335.30H322.80" stroke="#2a2a2a" stroke-width="1.2"/>
<text x="316.30" y="338.20" text-anchor="end" class="tk">0.00</text>
<path d="M319.60 310.45H322.80" stroke="#2a2a2a" stroke-width="1.2"/>
<text x="316.30" y="313.35" text-anchor="end" class="tk">0.25</text>
<path d="M319.60 285.60H322.80" stroke="#2a2a2a" stroke-width="1.2"/>
<text x="316.30" y="288.50" text-anchor="end" class="tk">0.50</text>
<path d="M319.60 260.75H322.80" stroke="#2a2a2a" stroke-width="1.2"/>
<text x="316.30" y="263.65" text-anchor="end" class="tk">0.75</text>
<path d="M319.60 235.90H322.80" stroke="#2a2a2a" stroke-width="1.2"/>
<text x="316.30" y="238.80" text-anchor="end" class="tk">1.00</text>
<path d="M319.60 211.05H322.80" stroke="#2a2a2a" stroke-width="1.2"/>
<text x="316.30" y="213.95" text-anchor="end" class="tk">1.25</text>
<path d="M338.50 335.30V338.50" stroke="#2a2a2a" stroke-width="1.2"/>
<text x="338.50" y="349.50" text-anchor="middle" class="tk">−10</text>
<path d="M369.52 335.30V338.50" stroke="#2a2a2a" stroke-width="1.2"/>
<text x="369.52" y="349.50" text-anchor="middle" class="tk">−9</text>
<path d="M400.54 335.30V338.50" stroke="#2a2a2a" stroke-width="1.2"/>
<text x="400.54" y="349.50" text-anchor="middle" class="tk">−8</text>
<path d="M431.56 335.30V338.50" stroke="#2a2a2a" stroke-width="1.2"/>
<text x="431.56" y="349.50" text-anchor="middle" class="tk">−7</text>
<path d="M462.58 335.30V338.50" stroke="#2a2a2a" stroke-width="1.2"/>
<text x="462.58" y="349.50" text-anchor="middle" class="tk">−6</text>
<path d="M493.60 335.30V338.50" stroke="#2a2a2a" stroke-width="1.2"/>
<text x="493.60" y="349.50" text-anchor="middle" class="tk">−5</text>
<text x="417.55" y="363.50" text-anchor="middle" class="xl" textLength="39.7" lengthAdjust="spacingAndGlyphs">log[MTX], M</text>
<text transform="translate(293.70 272.30) rotate(-90)" text-anchor="middle" class="yl" textLength="52" lengthAdjust="spacingAndGlyphs">Relative viability</text>
<text x="278.50" y="206.10" class="pl">E</text>
<text x="339.50" y="327.70" class="cl" textLength="16.6" lengthAdjust="spacingAndGlyphs">REH</text>
<path d="M338.50 229.95 L339.71 229.96 L340.91 229.96 L342.12 229.96 L343.33 229.97 L344.54 229.97 L345.74 229.98 L346.95 229.99 L348.16 229.99 L349.36 230.00 L350.57 230.02 L351.78 230.03 L352.99 230.05 L354.19 230.06 L355.40 230.09 L356.61 230.11 L357.82 230.14 L359.02 230.18 L360.23 230.22 L361.44 230.26 L362.64 230.32 L363.85 230.38 L365.06 230.46 L366.27 230.55 L367.47 230.65 L368.68 230.77 L369.89 230.91 L371.09 231.07 L372.30 231.26 L373.51 231.48 L374.72 231.74 L375.92 232.04 L377.13 232.39 L378.34 232.80 L379.54 233.27 L380.75 233.81 L381.96 234.44 L383.17 235.16 L384.37 236.00 L385.58 236.96 L386.79 238.05 L387.99 239.30 L389.20 240.72 L390.41 242.32 L391.62 244.13 L392.82 246.15 L394.03 248.40 L395.24 250.88 L396.45 253.59 L397.65 256.55 L398.86 259.72 L400.07 263.11 L401.27 266.68 L402.48 270.41 L403.69 274.24 L404.90 278.15 L406.10 282.09 L407.31 286.00 L408.52 289.84 L409.72 293.56 L410.93 297.13 L412.14 300.52 L413.35 303.70 L414.55 306.65 L415.76 309.37 L416.97 311.85 L418.17 314.10 L419.38 316.12 L420.59 317.93 L421.80 319.54 L423.00 320.96 L424.21 322.21 L425.42 323.30 L426.63 324.26 L427.83 325.10 L429.04 325.82 L430.25 326.45 L431.45 327.00 L432.66 327.47 L433.87 327.87 L435.08 328.22 L436.28 328.52 L437.49 328.78 L438.70 329.00 L439.90 329.19 L441.11 329.36 L442.32 329.50 L443.53 329.62 L444.73 329.72 L445.94 329.81 L447.15 329.88 L448.35 329.95 L449.56 330.00 L450.77 330.05 L451.98 330.09 L453.18 330.13 L454.39 330.16 L455.60 330.18 L456.81 330.20 L458.01 330.22 L459.22 330.24 L460.43 330.25 L461.63 330.26 L462.84 330.27 L464.05 330.28 L465.26 330.29 L466.46 330.29 L467.67 330.30 L468.88 330.30 L470.08 330.31 L471.29 330.31 L472.50 330.31 L473.71 330.32 L474.91 330.32 L476.12 330.32 L477.33 330.32 L478.53 330.32 L479.74 330.32 L480.95 330.32 L482.16 330.33 L483.36 330.33" fill="none" stroke="#f09a48" stroke-width="1.2"/>
<path d="M338.50 229.96 L339.71 229.97 L340.91 229.97 L342.12 229.98 L343.33 229.98 L344.54 229.99 L345.74 230.00 L346.95 230.01 L348.16 230.02 L349.36 230.03 L350.57 230.05 L351.78 230.07 L352.99 230.09 L354.19 230.11 L355.40 230.14 L356.61 230.18 L357.82 230.21 L359.02 230.26 L360.23 230.31 L361.44 230.37 L362.64 230.44 L363.85 230.52 L365.06 230.62 L366.27 230.73 L367.47 230.85 L368.68 231.00 L369.89 231.17 L371.09 231.36 L372.30 231.59 L373.51 231.85 L374.72 232.15 L375.92 232.50 L377.13 232.90 L378.34 233.36 L379.54 233.90 L380.75 234.51 L381.96 235.20 L383.17 236.00 L384.37 236.91 L385.58 237.95 L386.79 239.12 L387.99 240.44 L389.20 241.93 L390.41 243.60 L391.62 245.46 L392.82 247.51 L394.03 249.78 L395.24 252.26 L396.45 254.94 L397.65 257.84 L398.86 260.92 L400.07 264.18 L401.27 267.60 L402.48 271.13 L403.69 274.75 L404.90 278.42 L406.10 282.10 L407.31 285.74 L408.52 289.32 L409.72 292.78 L410.93 296.10 L412.14 299.26 L413.35 302.23 L414.55 305.00 L415.76 307.56 L416.97 309.91 L418.17 312.04 L419.38 313.98 L420.59 315.72 L421.80 317.28 L423.00 318.66 L424.21 319.89 L425.42 320.98 L426.63 321.94 L427.83 322.78 L429.04 323.51 L430.25 324.15 L431.45 324.71 L432.66 325.20 L433.87 325.63 L435.08 326.00 L436.28 326.31 L437.49 326.59 L438.70 326.83 L439.90 327.04 L441.11 327.22 L442.32 327.37 L443.53 327.51 L444.73 327.62 L445.94 327.72 L447.15 327.81 L448.35 327.88 L449.56 327.94 L450.77 328.00 L451.98 328.05 L453.18 328.09 L454.39 328.12 L455.60 328.15 L456.81 328.18 L458.01 328.20 L459.22 328.22 L460.43 328.24 L461.63 328.25 L462.84 328.27 L464.05 328.28 L465.26 328.28 L466.46 328.29 L467.67 328.30 L468.88 328.31 L470.08 328.31 L471.29 328.32 L472.50 328.32 L473.71 328.32 L474.91 328.32 L476.12 328.33 L477.33 328.33 L478.53 328.33 L479.74 328.33 L480.95 328.33 L482.16 328.33 L483.36 328.34" fill="none" stroke="#3a8c48" stroke-width="1.2"/>
<path d="M338.50 224.97V246.83M336.10 224.97H340.90M336.10 246.83H340.90" stroke="#f0901e" stroke-width="0.75" fill="none"/>
<rect x="336.00" y="233.40" width="5" height="5" fill="#f0901e"/>
<rect x="377.57" y="227.44" width="5" height="5" fill="#f0901e"/>
<path d="M390.41 223.97V235.90M388.01 223.97H392.81M388.01 235.90H392.81" stroke="#f0901e" stroke-width="0.75" fill="none"/>
<rect x="387.91" y="227.44" width="5" height="5" fill="#f0901e"/>
<rect x="398.24" y="286.08" width="5" height="5" fill="#f0901e"/>
<rect x="408.58" y="272.17" width="5" height="5" fill="#f0901e"/>
<rect x="418.92" y="323.85" width="5" height="5" fill="#f0901e"/>
<rect x="429.26" y="326.84" width="5" height="5" fill="#f0901e"/>
<rect x="439.60" y="328.33" width="5" height="5" fill="#f0901e"/>
<rect x="449.94" y="328.33" width="5" height="5" fill="#f0901e"/>
<rect x="460.28" y="328.33" width="5" height="5" fill="#f0901e"/>
<rect x="470.62" y="328.33" width="5" height="5" fill="#f0901e"/>
<rect x="480.96" y="328.33" width="5" height="5" fill="#f0901e"/>
<circle cx="338.50" cy="235.90" r="2.6" fill="#2b9a3a"/>
<path d="M380.07 230.93V234.91M377.67 230.93H382.47M377.67 234.91H382.47" stroke="#2b9a3a" stroke-width="0.75" fill="none"/>
<circle cx="380.07" cy="232.92" r="2.6" fill="#2b9a3a"/>
<circle cx="390.41" cy="229.94" r="2.6" fill="#2b9a3a"/>
<path d="M400.74 279.64V285.60M398.34 279.64H403.14M398.34 285.60H403.14" stroke="#2b9a3a" stroke-width="0.75" fill="none"/>
<circle cx="400.74" cy="282.62" r="2.6" fill="#2b9a3a"/>
<circle cx="411.08" cy="288.58" r="2.6" fill="#2b9a3a"/>
<circle cx="421.42" cy="319.40" r="2.6" fill="#2b9a3a"/>
<circle cx="431.76" cy="327.75" r="2.6" fill="#2b9a3a"/>
<circle cx="442.10" cy="328.34" r="2.6" fill="#2b9a3a"/>
<circle cx="452.44" cy="328.34" r="2.6" fill="#2b9a3a"/>
<circle cx="462.78" cy="328.34" r="2.6" fill="#2b9a3a"/>
<circle cx="473.12" cy="328.34" r="2.6" fill="#2b9a3a"/>
<circle cx="483.46" cy="328.34" r="2.6" fill="#2b9a3a"/>
<path d="M346.50 376.80H362.30" stroke="#2b9a3a" stroke-width="1.1"/>
<circle cx="354.40" cy="376.80" r="2.2" fill="#2b9a3a"/>
<text x="366.90" y="379.70" class="t" textLength="21.3" lengthAdjust="spacingAndGlyphs">Media</text>
<path d="M389.00 376.80H394.60" stroke="#1e1e1e" stroke-width="0.8" fill="none" opacity="0.75"/>
<path d="M393.20 375.30L395.40 376.80L393.20 378.30Z" fill="#1e1e1e"/>
<text x="396.30" y="379.70" class="t" textLength="21.3" lengthAdjust="spacingAndGlyphs">Media</text>
<path d="M423.80 376.80H440.00" stroke="#f0901e" stroke-width="1.1"/>
<rect x="429.80" y="374.70" width="4.2" height="4.2" fill="#f0901e"/>
<text x="443.80" y="379.70" class="t" textLength="15.5" lengthAdjust="spacingAndGlyphs">CSF</text>
<path d="M460.10 376.80H465.70" stroke="#1e1e1e" stroke-width="0.8" fill="none" opacity="0.75"/>
<path d="M464.30 375.30L466.50 376.80L464.30 378.30Z" fill="#1e1e1e"/>
<text x="467.40" y="379.70" class="t" textLength="21.3" lengthAdjust="spacingAndGlyphs">Media</text>
<path d="M322.80 396.95V524.40H512.30" fill="none" stroke="#2a2a2a" stroke-width="1.7"/>
<path d="M319.60 524.40H322.80" stroke="#2a2a2a" stroke-width="1.2"/>
<text x="316.30" y="527.30" text-anchor="end" class="tk">0.00</text>
<path d="M319.60 499.55H322.80" stroke="#2a2a2a" stroke-width="1.2"/>
<text x="316.30" y="502.45" text-anchor="end" class="tk">0.25</text>
<path d="M319.60 474.70H322.80" stroke="#2a2a2a" stroke-width="1.2"/>
<text x="316.30" y="477.60" text-anchor="end" class="tk">0.50</text>
<path d="M319.60 449.85H322.80" stroke="#2a2a2a" stroke-width="1.2"/>
<text x="316.30" y="452.75" text-anchor="end" class="tk">0.75</text>
<path d="M319.60 425.00H322.80" stroke="#2a2a2a" stroke-width="1.2"/>
<text x="316.30" y="427.90" text-anchor="end" class="tk">1.00</text>
<path d="M319.60 400.15H322.80" stroke="#2a2a2a" stroke-width="1.2"/>
<text x="316.30" y="403.05" text-anchor="end" class="tk">1.25</text>
<path d="M338.50 524.40V527.60" stroke="#2a2a2a" stroke-width="1.2"/>
<text x="338.50" y="538.60" text-anchor="middle" class="tk">−10</text>
<path d="M369.52 524.40V527.60" stroke="#2a2a2a" stroke-width="1.2"/>
<text x="369.52" y="538.60" text-anchor="middle" class="tk">−9</text>
<path d="M400.54 524.40V527.60" stroke="#2a2a2a" stroke-width="1.2"/>
<text x="400.54" y="538.60" text-anchor="middle" class="tk">−8</text>
<path d="M431.56 524.40V527.60" stroke="#2a2a2a" stroke-width="1.2"/>
<text x="431.56" y="538.60" text-anchor="middle" class="tk">−7</text>
<path d="M462.58 524.40V527.60" stroke="#2a2a2a" stroke-width="1.2"/>
<text x="462.58" y="538.60" text-anchor="middle" class="tk">−6</text>
<path d="M493.60 524.40V527.60" stroke="#2a2a2a" stroke-width="1.2"/>
<text x="493.60" y="538.60" text-anchor="middle" class="tk">−5</text>
<text x="417.55" y="552.60" text-anchor="middle" class="xl" textLength="39.7" lengthAdjust="spacingAndGlyphs">log[MTX], M</text>
<text transform="translate(293.70 461.40) rotate(-90)" text-anchor="middle" class="yl" textLength="52" lengthAdjust="spacingAndGlyphs">Relative viability</text>
<text x="278.50" y="395.60" class="pl">F</text>
<text x="337.60" y="516.80" class="cl" textLength="20.4" lengthAdjust="spacingAndGlyphs">Jurkat</text>
<path d="M338.50 424.01 L339.71 424.01 L340.91 424.01 L342.12 424.01 L343.33 424.01 L344.54 424.01 L345.74 424.01 L346.95 424.01 L348.16 424.01 L349.36 424.01 L350.57 424.01 L351.78 424.01 L352.99 424.01 L354.19 424.02 L355.40 424.02 L356.61 424.02 L357.82 424.02 L359.02 424.03 L360.23 424.03 L361.44 424.04 L362.64 424.05 L363.85 424.06 L365.06 424.07 L366.27 424.09 L367.47 424.11 L368.68 424.14 L369.89 424.17 L371.09 424.22 L372.30 424.27 L373.51 424.33 L374.72 424.41 L375.92 424.51 L377.13 424.64 L378.34 424.80 L379.54 424.99 L380.75 425.24 L381.96 425.54 L383.17 425.92 L384.37 426.38 L385.58 426.96 L386.79 427.67 L387.99 428.55 L389.20 429.62 L390.41 430.92 L391.62 432.50 L392.82 434.39 L394.03 436.65 L395.24 439.32 L396.45 442.42 L397.65 445.98 L398.86 450.01 L400.07 454.48 L401.27 459.33 L402.48 464.50 L403.69 469.85 L404.90 475.28 L406.10 480.65 L407.31 485.82 L408.52 490.69 L409.72 495.18 L410.93 499.24 L412.14 502.82 L413.35 505.95 L414.55 508.64 L415.76 510.92 L416.97 512.83 L418.17 514.43 L419.38 515.74 L420.59 516.83 L421.80 517.71 L423.00 518.43 L424.21 519.01 L425.42 519.48 L426.63 519.86 L427.83 520.17 L429.04 520.42 L430.25 520.62 L431.45 520.78 L432.66 520.90 L433.87 521.01 L435.08 521.09 L436.28 521.15 L437.49 521.21 L438.70 521.25 L439.90 521.28 L441.11 521.31 L442.32 521.33 L443.53 521.35 L444.73 521.36 L445.94 521.37 L447.15 521.38 L448.35 521.39 L449.56 521.40 L450.77 521.40 L451.98 521.40 L453.18 521.41 L454.39 521.41 L455.60 521.41 L456.81 521.41 L458.01 521.41 L459.22 521.41 L460.43 521.41 L461.63 521.42 L462.84 521.42 L464.05 521.42 L465.26 521.42 L466.46 521.42 L467.67 521.42 L468.88 521.42 L470.08 521.42 L471.29 521.42 L472.50 521.42 L473.71 521.42 L474.91 521.42 L476.12 521.42 L477.33 521.42 L478.53 521.42 L479.74 521.42 L480.95 521.42 L482.16 521.42 L483.36 521.42" fill="none" stroke="#f09a48" stroke-width="1.2"/>
<path d="M338.50 430.97 L339.71 430.97 L340.91 430.97 L342.12 430.97 L343.33 430.97 L344.54 430.97 L345.74 430.97 L346.95 430.97 L348.16 430.97 L349.36 430.98 L350.57 430.98 L351.78 430.98 L352.99 430.99 L354.19 430.99 L355.40 431.00 L356.61 431.00 L357.82 431.01 L359.02 431.02 L360.23 431.03 L361.44 431.05 L362.64 431.07 L363.85 431.09 L365.06 431.12 L366.27 431.15 L367.47 431.19 L368.68 431.24 L369.89 431.29 L371.09 431.37 L372.30 431.45 L373.51 431.56 L374.72 431.68 L375.92 431.83 L377.13 432.02 L378.34 432.24 L379.54 432.51 L380.75 432.84 L381.96 433.23 L383.17 433.70 L384.37 434.26 L385.58 434.94 L386.79 435.75 L387.99 436.71 L389.20 437.85 L390.41 439.20 L391.62 440.77 L392.82 442.61 L394.03 444.72 L395.24 447.15 L396.45 449.90 L397.65 452.97 L398.86 456.37 L400.07 460.07 L401.27 464.03 L402.48 468.21 L403.69 472.53 L404.90 476.92 L406.10 481.29 L407.31 485.57 L408.52 489.68 L409.72 493.57 L410.93 497.17 L412.14 500.46 L413.35 503.43 L414.55 506.07 L415.76 508.39 L416.97 510.41 L418.17 512.16 L419.38 513.65 L420.59 514.93 L421.80 516.01 L423.00 516.91 L424.21 517.68 L425.42 518.32 L426.63 518.85 L427.83 519.29 L429.04 519.66 L430.25 519.97 L431.45 520.22 L432.66 520.43 L433.87 520.60 L435.08 520.74 L436.28 520.86 L437.49 520.96 L438.70 521.04 L439.90 521.11 L441.11 521.16 L442.32 521.21 L443.53 521.24 L444.73 521.28 L445.94 521.30 L447.15 521.32 L448.35 521.34 L449.56 521.35 L450.77 521.36 L451.98 521.37 L453.18 521.38 L454.39 521.39 L455.60 521.39 L456.81 521.40 L458.01 521.40 L459.22 521.40 L460.43 521.41 L461.63 521.41 L462.84 521.41 L464.05 521.41 L465.26 521.41 L466.46 521.41 L467.67 521.41 L468.88 521.42 L470.08 521.42 L471.29 521.42 L472.50 521.42 L473.71 521.42 L474.91 521.42 L476.12 521.42 L477.33 521.42 L478.53 521.42 L479.74 521.42 L480.95 521.42 L482.16 521.42 L483.36 521.42" fill="none" stroke="#3a8c48" stroke-width="1.2"/>
<rect x="336.00" y="421.51" width="5" height="5" fill="#f0901e"/>
<rect x="377.57" y="426.48" width="5" height="5" fill="#f0901e"/>
<rect x="387.91" y="431.45" width="5" height="5" fill="#f0901e"/>
<rect x="398.24" y="450.33" width="5" height="5" fill="#f0901e"/>
<rect x="408.58" y="500.03" width="5" height="5" fill="#f0901e"/>
<rect x="418.92" y="489.10" width="5" height="5" fill="#f0901e"/>
<rect x="429.26" y="516.93" width="5" height="5" fill="#f0901e"/>
<rect x="439.60" y="518.92" width="5" height="5" fill="#f0901e"/>
<rect x="449.94" y="518.92" width="5" height="5" fill="#f0901e"/>
<rect x="460.28" y="518.92" width="5" height="5" fill="#f0901e"/>
<rect x="470.62" y="518.92" width="5" height="5" fill="#f0901e"/>
<rect x="480.96" y="518.92" width="5" height="5" fill="#f0901e"/>
<path d="M338.50 428.48V441.40M336.10 428.48H340.90M336.10 441.40H340.90" stroke="#2b9a3a" stroke-width="0.75" fill="none"/>
<circle cx="338.50" cy="434.94" r="2.6" fill="#2b9a3a"/>
<circle cx="380.07" cy="438.92" r="2.6" fill="#2b9a3a"/>
<path d="M390.41 423.01V436.93M388.01 423.01H392.81M388.01 436.93H392.81" stroke="#2b9a3a" stroke-width="0.75" fill="none"/>
<circle cx="390.41" cy="429.97" r="2.6" fill="#2b9a3a"/>
<circle cx="400.74" cy="469.73" r="2.6" fill="#2b9a3a"/>
<circle cx="411.08" cy="498.56" r="2.6" fill="#2b9a3a"/>
<circle cx="421.42" cy="485.63" r="2.6" fill="#2b9a3a"/>
<circle cx="431.76" cy="517.94" r="2.6" fill="#2b9a3a"/>
<circle cx="442.10" cy="520.92" r="2.6" fill="#2b9a3a"/>
<circle cx="452.44" cy="521.42" r="2.6" fill="#2b9a3a"/>
<circle cx="462.78" cy="521.42" r="2.6" fill="#2b9a3a"/>
<circle cx="473.12" cy="521.42" r="2.6" fill="#2b9a3a"/>
<circle cx="483.46" cy="521.42" r="2.6" fill="#2b9a3a"/>
<path d="M346.50 565.90H362.30" stroke="#2b9a3a" stroke-width="1.1"/>
<circle cx="354.40" cy="565.90" r="2.2" fill="#2b9a3a"/>
<text x="366.90" y="568.80" class="t" textLength="21.3" lengthAdjust="spacingAndGlyphs">Media</text>
<path d="M389.00 565.90H394.60" stroke="#1e1e1e" stroke-width="0.8" fill="none" opacity="0.75"/>
<path d="M393.20 564.40L395.40 565.90L393.20 567.40Z" fill="#1e1e1e"/>
<text x="396.30" y="568.80" class="t" textLength="21.3" lengthAdjust="spacingAndGlyphs">Media</text>
<path d="M423.80 565.90H440.00" stroke="#f0901e" stroke-width="1.1"/>
<rect x="429.80" y="563.80" width="4.2" height="4.2" fill="#f0901e"/>
<text x="443.80" y="568.80" class="t" textLength="15.5" lengthAdjust="spacingAndGlyphs">CSF</text>
<path d="M460.10 565.90H465.70" stroke="#1e1e1e" stroke-width="0.8" fill="none" opacity="0.75"/>
<path d="M464.30 564.40L466.50 565.90L464.30 567.40Z" fill="#1e1e1e"/>
<text x="467.40" y="568.80" class="t" textLength="21.3" lengthAdjust="spacingAndGlyphs">Media</text>
<rect x="0.5" y="0.5" width="519" height="577" fill="none" stroke="#444" stroke-width="1"/>
</svg>
</body></html>
